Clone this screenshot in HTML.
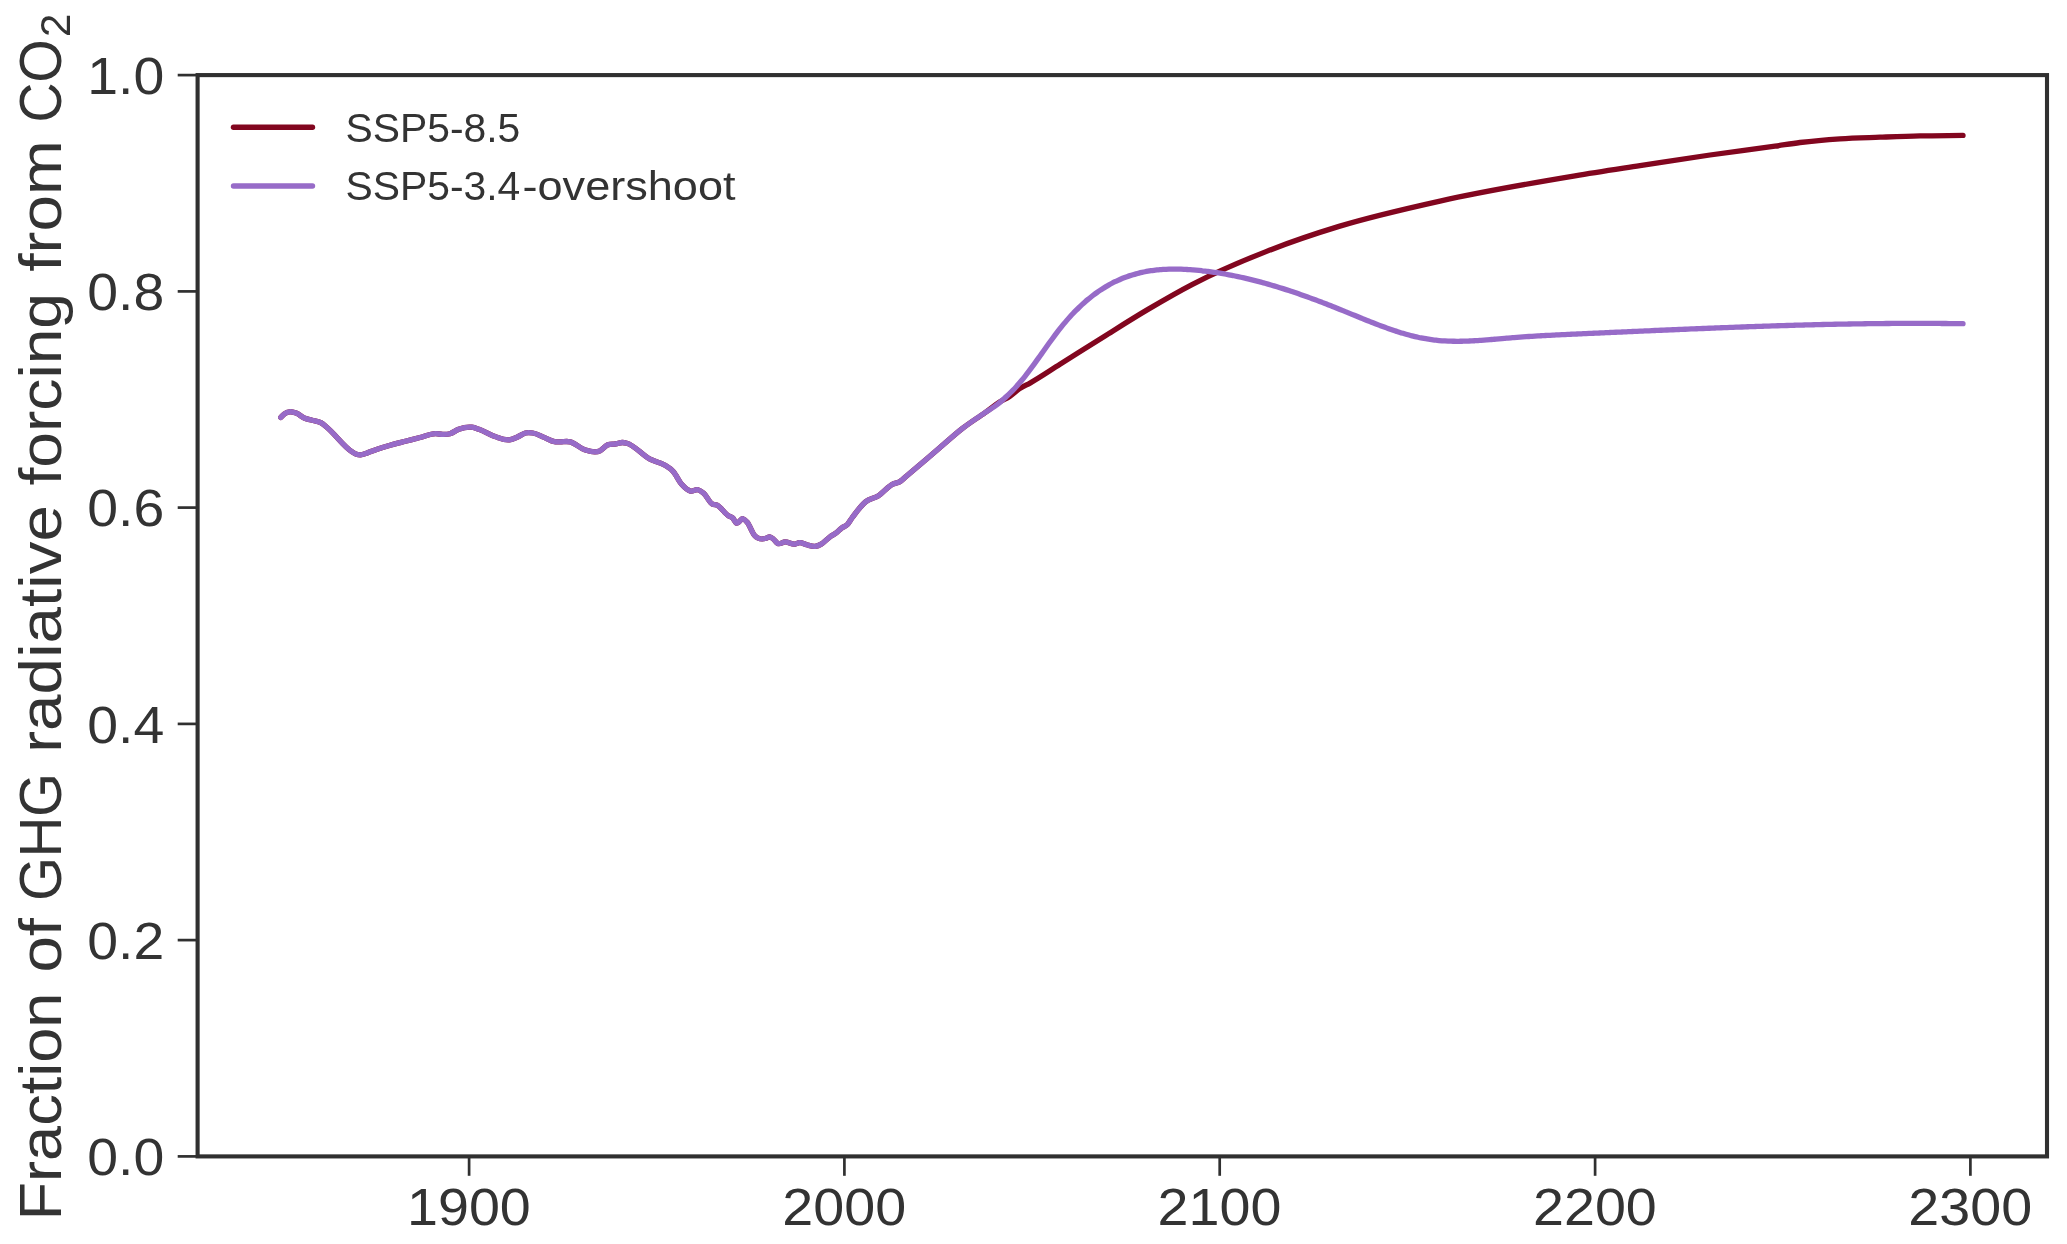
<!DOCTYPE html>
<html><head><meta charset="utf-8"><style>
html,body{margin:0;padding:0;background:#fff;width:2067px;height:1244px;overflow:hidden}
svg{display:block;will-change:transform}
text{font-family:"Liberation Sans",sans-serif}
</style></head><body>
<svg width="2067" height="1244" viewBox="0 0 2067 1244"><rect width="2067" height="1244" fill="#ffffff"/><path d="M280.80 417.40 C282.03 416.20 283.27 414.70 284.50 413.80 C286.20 412.56 287.90 412.02 289.60 411.80 C291.77 411.51 293.93 412.30 296.10 413.10 C299.00 414.17 301.90 417.10 304.80 418.30 C307.20 419.30 309.60 419.56 312.00 420.20 C314.93 420.99 317.87 420.91 320.80 422.60 C322.70 423.69 324.60 425.46 326.50 427.00 C335.00 433.87 343.50 446.55 352.00 451.80 C353.50 452.73 355.00 453.81 356.50 454.30 C357.90 454.76 359.30 454.87 360.70 454.80 C362.30 454.71 363.90 454.12 365.50 453.60 C367.03 453.11 368.57 452.38 370.10 451.80 C375.93 449.59 381.77 447.75 387.60 446.00 C393.87 444.12 400.13 442.64 406.40 441.00 C410.93 439.82 415.47 438.64 420.00 437.50 C425.17 436.20 430.33 433.81 435.50 433.70 C437.90 433.65 440.30 434.30 442.70 434.30 C445.13 434.30 447.57 434.37 450.00 433.70 C452.90 432.90 455.80 430.37 458.70 429.30 C463.03 427.71 467.37 426.65 471.70 427.20 C474.13 427.51 476.57 428.47 479.00 429.30 C484.33 431.12 489.67 434.83 495.00 436.60 C499.83 438.21 504.67 440.50 509.50 439.80 C512.00 439.44 514.50 438.34 517.00 437.30 C519.80 436.13 522.60 433.67 525.40 433.00 C527.83 432.42 530.27 432.64 532.70 433.00 C536.53 433.57 540.37 435.86 544.20 437.40 C547.63 438.78 551.07 441.16 554.50 441.70 C556.33 441.99 558.17 441.78 560.00 441.80 C563.40 441.84 566.80 441.03 570.20 441.80 C575.03 442.90 579.87 448.28 584.70 449.80 C589.77 451.39 594.83 453.22 599.90 450.80 C602.57 449.53 605.23 445.85 607.90 444.70 C610.57 443.55 613.23 444.34 615.90 443.90 C618.07 443.55 620.23 442.48 622.40 442.50 C623.87 442.51 625.33 442.84 626.80 443.20 C634.53 445.08 642.27 455.25 650.00 459.20 C654.83 461.67 659.67 462.02 664.50 465.00 C667.40 466.79 670.30 468.23 673.20 471.50 C676.10 474.77 679.00 481.33 681.90 484.60 C684.80 487.87 687.70 490.41 690.60 491.10 C693.03 491.68 695.47 489.06 697.90 489.70 C699.83 490.20 701.77 491.61 703.70 493.30 C706.60 495.83 709.50 502.68 712.40 504.20 C713.83 504.95 715.27 504.37 716.70 504.90 C720.60 506.34 724.50 513.36 728.40 515.80 C729.83 516.70 731.27 516.58 732.70 518.00 C733.90 519.19 735.10 522.20 736.30 523.00 C738.50 524.47 740.70 518.15 742.90 518.70 C744.33 519.06 745.77 520.59 747.20 522.30 C749.63 525.20 752.07 532.48 754.50 535.40 C758.37 540.03 762.23 539.30 766.10 538.30 C767.30 537.99 768.50 536.68 769.70 536.80 C770.90 536.92 772.10 538.06 773.30 539.00 C774.77 540.15 776.23 542.60 777.70 543.40 C780.13 544.73 782.57 541.97 785.00 541.90 C788.37 541.81 791.73 544.68 795.10 544.10 C796.57 543.85 798.03 542.74 799.50 542.60 C801.90 542.37 804.30 544.21 806.70 544.80 C809.60 545.51 812.50 546.76 815.40 546.30 C817.33 545.99 819.27 545.18 821.20 544.10 C824.13 542.46 827.07 538.86 830.00 536.80 C831.93 535.44 833.87 534.65 835.80 533.20 C837.73 531.75 839.67 529.55 841.60 528.10 C843.53 526.65 845.47 526.55 847.40 524.50 C849.03 522.77 850.67 519.72 852.30 517.50 C856.80 511.37 861.30 505.22 865.80 501.60 C869.90 498.30 874.00 498.43 878.10 495.90 C883.00 492.87 887.90 486.44 892.80 484.10 C895.03 483.03 897.27 483.20 899.50 481.90 C901.77 480.58 904.03 478.11 906.30 476.20 C917.53 466.76 928.77 457.05 940.00 447.50 C947.50 441.13 955.00 434.21 962.50 428.40 C970.03 422.57 977.57 417.98 985.10 412.60 C990.07 409.05 995.03 404.88 1000.00 401.80 C1003.20 399.82 1006.40 398.64 1009.60 396.50 C1012.83 394.34 1016.07 391.06 1019.30 388.90 C1022.87 386.51 1026.43 385.11 1030.00 383.10 C1040.00 377.46 1050.00 370.58 1060.00 364.30 C1075.00 354.87 1090.00 345.25 1105.00 335.90 C1119.33 326.96 1133.67 317.86 1148.00 309.40 C1162.67 300.74 1177.33 292.22 1192.00 284.60 C1216.67 271.78 1241.33 261.35 1266.00 251.60 C1290.33 241.98 1314.67 233.83 1339.00 226.40 C1372.67 216.12 1406.33 208.61 1440.00 201.10 C1485.00 191.06 1530.00 183.40 1575.00 175.90 C1596.67 172.29 1618.33 169.06 1640.00 165.70 C1663.33 162.08 1686.67 158.36 1710.00 155.00 C1731.67 151.88 1753.33 149.33 1775.00 146.20 C1783.33 145.00 1791.67 143.56 1800.00 142.50 C1813.33 140.81 1826.67 139.68 1840.00 138.80 C1853.33 137.92 1866.67 137.68 1880.00 137.20 C1893.33 136.72 1906.67 136.20 1920.00 135.90 C1934.33 135.58 1948.67 135.57 1963.00 135.40" fill="none" stroke="#82061f" stroke-width="5.3" stroke-linecap="round" stroke-linejoin="round"/><path d="M280.80 417.40 C282.03 416.20 283.27 414.70 284.50 413.80 C286.20 412.56 287.90 412.02 289.60 411.80 C291.77 411.51 293.93 412.30 296.10 413.10 C299.00 414.17 301.90 417.10 304.80 418.30 C307.20 419.30 309.60 419.56 312.00 420.20 C314.93 420.99 317.87 420.91 320.80 422.60 C322.70 423.69 324.60 425.46 326.50 427.00 C335.00 433.87 343.50 446.55 352.00 451.80 C353.50 452.73 355.00 453.81 356.50 454.30 C357.90 454.76 359.30 454.87 360.70 454.80 C362.30 454.71 363.90 454.12 365.50 453.60 C367.03 453.11 368.57 452.38 370.10 451.80 C375.93 449.59 381.77 447.75 387.60 446.00 C393.87 444.12 400.13 442.64 406.40 441.00 C410.93 439.82 415.47 438.64 420.00 437.50 C425.17 436.20 430.33 433.81 435.50 433.70 C437.90 433.65 440.30 434.30 442.70 434.30 C445.13 434.30 447.57 434.37 450.00 433.70 C452.90 432.90 455.80 430.37 458.70 429.30 C463.03 427.71 467.37 426.65 471.70 427.20 C474.13 427.51 476.57 428.47 479.00 429.30 C484.33 431.12 489.67 434.83 495.00 436.60 C499.83 438.21 504.67 440.50 509.50 439.80 C512.00 439.44 514.50 438.34 517.00 437.30 C519.80 436.13 522.60 433.67 525.40 433.00 C527.83 432.42 530.27 432.64 532.70 433.00 C536.53 433.57 540.37 435.86 544.20 437.40 C547.63 438.78 551.07 441.16 554.50 441.70 C556.33 441.99 558.17 441.78 560.00 441.80 C563.40 441.84 566.80 441.03 570.20 441.80 C575.03 442.90 579.87 448.28 584.70 449.80 C589.77 451.39 594.83 453.22 599.90 450.80 C602.57 449.53 605.23 445.85 607.90 444.70 C610.57 443.55 613.23 444.34 615.90 443.90 C618.07 443.55 620.23 442.48 622.40 442.50 C623.87 442.51 625.33 442.84 626.80 443.20 C634.53 445.08 642.27 455.25 650.00 459.20 C654.83 461.67 659.67 462.02 664.50 465.00 C667.40 466.79 670.30 468.23 673.20 471.50 C676.10 474.77 679.00 481.33 681.90 484.60 C684.80 487.87 687.70 490.41 690.60 491.10 C693.03 491.68 695.47 489.06 697.90 489.70 C699.83 490.20 701.77 491.61 703.70 493.30 C706.60 495.83 709.50 502.68 712.40 504.20 C713.83 504.95 715.27 504.37 716.70 504.90 C720.60 506.34 724.50 513.36 728.40 515.80 C729.83 516.70 731.27 516.58 732.70 518.00 C733.90 519.19 735.10 522.20 736.30 523.00 C738.50 524.47 740.70 518.15 742.90 518.70 C744.33 519.06 745.77 520.59 747.20 522.30 C749.63 525.20 752.07 532.48 754.50 535.40 C758.37 540.03 762.23 539.30 766.10 538.30 C767.30 537.99 768.50 536.68 769.70 536.80 C770.90 536.92 772.10 538.06 773.30 539.00 C774.77 540.15 776.23 542.60 777.70 543.40 C780.13 544.73 782.57 541.97 785.00 541.90 C788.37 541.81 791.73 544.68 795.10 544.10 C796.57 543.85 798.03 542.74 799.50 542.60 C801.90 542.37 804.30 544.21 806.70 544.80 C809.60 545.51 812.50 546.76 815.40 546.30 C817.33 545.99 819.27 545.18 821.20 544.10 C824.13 542.46 827.07 538.86 830.00 536.80 C831.93 535.44 833.87 534.65 835.80 533.20 C837.73 531.75 839.67 529.55 841.60 528.10 C843.53 526.65 845.47 526.55 847.40 524.50 C849.03 522.77 850.67 519.72 852.30 517.50 C856.80 511.37 861.30 505.22 865.80 501.60 C869.90 498.30 874.00 498.43 878.10 495.90 C883.00 492.87 887.90 486.44 892.80 484.10 C895.03 483.03 897.27 483.20 899.50 481.90 C901.77 480.58 904.03 478.11 906.30 476.20 C917.53 466.76 928.77 457.05 940.00 447.50 C947.50 441.13 955.00 434.21 962.50 428.40 C970.03 422.57 977.57 417.58 985.10 412.60 C988.40 410.42 991.70 408.72 995.00 406.23 C996.00 405.47 997.00 404.67 998.00 403.86 C999.00 403.05 1000.00 402.23 1001.00 401.38 C1002.00 400.54 1003.00 399.67 1004.00 398.78 C1005.00 397.90 1006.00 396.99 1007.00 396.05 C1008.00 395.12 1009.00 394.16 1010.00 393.18 C1011.00 392.19 1012.00 391.18 1013.00 390.14 C1014.00 389.11 1015.00 388.04 1016.00 386.95 C1017.00 385.85 1018.00 384.73 1019.00 383.57 C1020.00 382.41 1021.00 381.22 1022.00 380.01 C1023.00 378.79 1024.00 377.54 1025.00 376.28 C1026.00 375.01 1027.00 373.71 1028.00 372.40 C1029.00 371.09 1030.00 369.76 1031.00 368.41 C1032.00 367.06 1033.00 365.69 1034.00 364.32 C1035.00 362.95 1036.00 361.56 1037.00 360.16 C1038.00 358.77 1039.00 357.36 1040.00 355.96 C1041.00 354.56 1042.00 353.14 1043.00 351.74 C1044.00 350.33 1045.00 348.92 1046.00 347.52 C1047.00 346.12 1048.00 344.72 1049.00 343.33 C1050.00 341.94 1051.00 340.56 1052.00 339.19 C1053.00 337.83 1054.00 336.47 1055.00 335.13 C1056.00 333.80 1057.00 332.48 1058.00 331.18 C1059.00 329.88 1060.00 328.60 1061.00 327.35 C1062.00 326.10 1063.00 324.87 1064.00 323.67 C1065.00 322.47 1066.00 321.30 1067.00 320.14 C1068.00 318.99 1069.00 317.86 1070.00 316.76 C1071.00 315.66 1072.00 314.58 1073.00 313.52 C1074.00 312.47 1075.00 311.44 1076.00 310.43 C1077.00 309.42 1078.00 308.43 1079.00 307.47 C1080.00 306.50 1081.00 305.56 1082.00 304.64 C1083.00 303.73 1084.00 302.83 1085.00 301.95 C1086.00 301.08 1087.00 300.23 1088.00 299.39 C1089.00 298.56 1090.00 297.75 1091.00 296.96 C1092.00 296.17 1093.00 295.40 1094.00 294.65 C1095.00 293.90 1096.00 293.17 1097.00 292.47 C1098.00 291.76 1099.00 291.07 1100.00 290.40 C1101.00 289.73 1102.00 289.08 1103.00 288.45 C1104.00 287.81 1105.00 287.20 1106.00 286.61 C1107.00 286.01 1108.00 285.44 1109.00 284.88 C1110.00 284.32 1111.00 283.78 1112.00 283.26 C1113.00 282.73 1114.00 282.23 1115.00 281.74 C1116.00 281.25 1117.00 280.78 1118.00 280.33 C1119.00 279.87 1120.00 279.43 1121.00 279.01 C1122.00 278.59 1123.00 278.18 1124.00 277.79 C1125.00 277.40 1126.00 277.03 1127.00 276.67 C1128.00 276.31 1129.00 275.96 1130.00 275.63 C1131.00 275.30 1132.00 274.99 1133.00 274.69 C1134.00 274.39 1135.00 274.10 1136.00 273.83 C1137.00 273.55 1138.00 273.29 1139.00 273.05 C1140.00 272.80 1141.00 272.57 1142.00 272.35 C1143.00 272.13 1144.00 271.92 1145.00 271.73 C1146.00 271.53 1147.00 271.35 1148.00 271.18 C1149.00 271.01 1150.00 270.85 1151.00 270.70 C1152.00 270.55 1153.00 270.42 1154.00 270.29 C1155.00 270.16 1156.00 270.05 1157.00 269.95 C1158.00 269.84 1159.00 269.75 1160.00 269.67 C1161.00 269.58 1162.00 269.51 1163.00 269.44 C1164.00 269.38 1165.00 269.33 1166.00 269.28 C1167.00 269.23 1168.00 269.20 1169.00 269.17 C1170.00 269.14 1171.00 269.12 1172.00 269.11 C1173.00 269.10 1174.00 269.10 1175.00 269.10 C1176.00 269.11 1177.00 269.12 1178.00 269.14 C1179.00 269.16 1180.00 269.18 1181.00 269.22 C1182.00 269.25 1183.00 269.29 1184.00 269.34 C1185.00 269.38 1186.00 269.44 1187.00 269.49 C1188.00 269.55 1189.00 269.62 1190.00 269.68 C1191.00 269.75 1192.00 269.83 1193.00 269.91 C1194.00 269.99 1195.00 270.07 1196.00 270.16 C1197.00 270.25 1198.00 270.34 1199.00 270.44 C1200.00 270.54 1201.00 270.65 1202.00 270.76 C1203.00 270.86 1204.00 270.98 1205.00 271.10 C1206.00 271.21 1207.00 271.34 1208.00 271.46 C1209.00 271.59 1210.00 271.72 1211.00 271.86 C1212.00 272.00 1213.00 272.14 1214.00 272.28 C1215.00 272.43 1216.00 272.58 1217.00 272.73 C1218.00 272.89 1219.00 273.05 1220.00 273.21 C1221.00 273.37 1222.00 273.54 1223.00 273.71 C1224.00 273.89 1225.00 274.06 1226.00 274.24 C1227.00 274.42 1228.00 274.61 1229.00 274.80 C1230.00 274.99 1231.00 275.18 1232.00 275.38 C1233.00 275.57 1234.00 275.78 1235.00 275.98 C1236.00 276.19 1237.00 276.40 1238.00 276.61 C1239.00 276.82 1240.00 277.04 1241.00 277.26 C1242.00 277.48 1243.00 277.71 1244.00 277.94 C1245.00 278.16 1246.00 278.40 1247.00 278.63 C1248.00 278.87 1249.00 279.11 1250.00 279.35 C1251.00 279.60 1252.00 279.85 1253.00 280.10 C1254.00 280.35 1255.00 280.60 1256.00 280.86 C1257.00 281.12 1258.00 281.38 1259.00 281.65 C1260.00 281.91 1261.00 282.18 1262.00 282.45 C1263.00 282.73 1264.00 283.00 1265.00 283.28 C1266.00 283.56 1267.00 283.84 1268.00 284.13 C1269.00 284.41 1270.00 284.70 1271.00 284.99 C1272.00 285.29 1273.00 285.58 1274.00 285.88 C1275.00 286.18 1276.00 286.48 1277.00 286.79 C1278.00 287.09 1279.00 287.40 1280.00 287.71 C1281.00 288.02 1282.00 288.33 1283.00 288.65 C1284.00 288.97 1285.00 289.29 1286.00 289.61 C1287.00 289.93 1288.00 290.26 1289.00 290.59 C1290.00 290.91 1291.00 291.25 1292.00 291.58 C1293.00 291.91 1294.00 292.25 1295.00 292.59 C1296.00 292.93 1297.00 293.27 1298.00 293.61 C1299.00 293.96 1300.00 294.31 1301.00 294.66 C1302.00 295.01 1303.00 295.36 1304.00 295.71 C1305.00 296.07 1306.00 296.42 1307.00 296.78 C1308.00 297.14 1309.00 297.50 1310.00 297.87 C1311.00 298.23 1312.00 298.60 1313.00 298.97 C1314.00 299.34 1315.00 299.71 1316.00 300.08 C1317.00 300.46 1318.00 300.83 1319.00 301.21 C1320.00 301.59 1321.00 301.97 1322.00 302.35 C1323.00 302.73 1324.00 303.11 1325.00 303.50 C1326.00 303.89 1327.00 304.27 1328.00 304.66 C1329.00 305.05 1330.00 305.44 1331.00 305.84 C1332.00 306.23 1333.00 306.63 1334.00 307.02 C1335.00 307.42 1336.00 307.82 1337.00 308.22 C1338.00 308.62 1339.00 309.02 1340.00 309.43 C1341.00 309.83 1342.00 310.24 1343.00 310.65 C1344.00 311.05 1345.00 311.46 1346.00 311.87 C1347.00 312.28 1348.00 312.69 1349.00 313.10 C1350.00 313.51 1351.00 313.92 1352.00 314.33 C1353.00 314.74 1354.00 315.15 1355.00 315.56 C1356.00 315.97 1357.00 316.38 1358.00 316.79 C1359.00 317.19 1360.00 317.60 1361.00 318.01 C1362.00 318.41 1363.00 318.82 1364.00 319.22 C1365.00 319.63 1366.00 320.03 1367.00 320.43 C1368.00 320.83 1369.00 321.23 1370.00 321.63 C1371.00 322.02 1372.00 322.42 1373.00 322.81 C1374.00 323.20 1375.00 323.59 1376.00 323.97 C1377.00 324.36 1378.00 324.74 1379.00 325.12 C1380.00 325.49 1381.00 325.87 1382.00 326.24 C1383.00 326.61 1384.00 326.98 1385.00 327.34 C1386.00 327.70 1387.00 328.06 1388.00 328.42 C1389.00 328.77 1390.00 329.12 1391.00 329.46 C1392.00 329.81 1393.00 330.15 1394.00 330.48 C1395.00 330.82 1396.00 331.14 1397.00 331.47 C1398.00 331.79 1399.00 332.10 1400.00 332.41 C1401.00 332.73 1402.00 333.03 1403.00 333.33 C1404.00 333.62 1405.00 333.91 1406.00 334.20 C1407.00 334.48 1408.00 334.76 1409.00 335.03 C1410.00 335.30 1411.00 335.56 1412.00 335.81 C1413.00 336.07 1414.00 336.31 1415.00 336.55 C1416.00 336.79 1417.00 337.02 1418.00 337.24 C1419.00 337.46 1420.00 337.68 1421.00 337.88 C1422.00 338.08 1423.00 338.28 1424.00 338.47 C1425.00 338.65 1426.00 338.83 1427.00 338.99 C1428.00 339.16 1429.00 339.32 1430.00 339.46 C1431.00 339.61 1432.00 339.75 1433.00 339.87 C1434.00 340.00 1435.00 340.12 1436.00 340.23 C1437.00 340.34 1438.00 340.43 1439.00 340.52 C1440.00 340.61 1441.00 340.69 1442.00 340.77 C1443.00 340.84 1444.00 340.91 1445.00 340.96 C1446.00 341.02 1447.00 341.07 1448.00 341.11 C1449.00 341.15 1450.00 341.18 1451.00 341.21 C1452.00 341.24 1453.00 341.25 1454.00 341.27 C1455.00 341.28 1456.00 341.29 1457.00 341.29 C1458.00 341.29 1459.00 341.28 1460.00 341.27 C1461.00 341.26 1462.00 341.24 1463.00 341.22 C1464.00 341.19 1465.00 341.16 1466.00 341.13 C1467.00 341.10 1468.00 341.06 1469.00 341.02 C1470.00 340.98 1471.00 340.93 1472.00 340.88 C1473.00 340.83 1474.00 340.77 1475.00 340.71 C1476.00 340.65 1477.00 340.59 1478.00 340.53 C1479.00 340.46 1480.00 340.39 1481.00 340.32 C1482.00 340.25 1483.00 340.18 1484.00 340.10 C1485.00 340.03 1486.00 339.95 1487.00 339.87 C1488.00 339.79 1489.00 339.71 1490.00 339.62 C1491.00 339.54 1492.00 339.45 1493.00 339.37 C1494.00 339.28 1495.00 339.20 1496.00 339.11 C1497.00 339.02 1498.00 338.93 1499.00 338.85 C1500.00 338.76 1501.00 338.67 1502.00 338.58 C1503.00 338.50 1504.00 338.41 1505.00 338.32 C1506.00 338.24 1507.00 338.15 1508.00 338.07 C1509.00 337.98 1510.00 337.90 1511.00 337.82 C1512.00 337.74 1513.00 337.66 1514.00 337.58 C1515.00 337.50 1516.00 337.42 1517.00 337.35 C1518.00 337.27 1519.00 337.20 1520.00 337.13 C1521.00 337.05 1522.00 336.98 1523.00 336.91 C1524.00 336.84 1525.00 336.77 1526.00 336.71 C1527.00 336.64 1528.00 336.57 1529.00 336.51 C1530.00 336.44 1531.00 336.38 1532.00 336.31 C1533.00 336.25 1534.00 336.19 1535.00 336.13 C1536.00 336.06 1537.00 336.00 1538.00 335.95 C1539.00 335.89 1540.00 335.83 1541.00 335.77 C1542.00 335.71 1543.00 335.66 1544.00 335.60 C1545.00 335.55 1546.00 335.49 1547.00 335.44 C1548.00 335.38 1549.00 335.33 1550.00 335.28 C1551.00 335.22 1552.00 335.17 1553.00 335.12 C1554.00 335.07 1555.00 335.02 1556.00 334.97 C1557.00 334.92 1558.00 334.87 1559.00 334.82 C1560.00 334.77 1561.00 334.72 1562.00 334.68 C1563.00 334.63 1564.00 334.58 1565.00 334.53 C1566.00 334.49 1567.00 334.44 1568.00 334.39 C1569.00 334.35 1570.00 334.30 1571.00 334.26 C1572.00 334.21 1573.00 334.17 1574.00 334.12 C1575.00 334.08 1576.00 334.03 1577.00 333.99 C1578.00 333.94 1579.00 333.90 1580.00 333.85 C1581.00 333.81 1582.00 333.76 1583.00 333.72 C1584.00 333.67 1585.00 333.63 1586.00 333.58 C1587.00 333.54 1588.00 333.50 1589.00 333.45 C1590.00 333.41 1591.00 333.36 1592.00 333.32 C1593.00 333.27 1594.00 333.23 1595.00 333.18 C1596.00 333.14 1597.00 333.09 1598.00 333.05 C1599.00 333.01 1600.00 332.96 1601.00 332.92 C1602.00 332.87 1603.00 332.83 1604.00 332.78 C1605.00 332.74 1606.00 332.69 1607.00 332.65 C1608.00 332.60 1609.00 332.56 1610.00 332.51 C1611.00 332.47 1612.00 332.42 1613.00 332.38 C1614.00 332.33 1615.00 332.29 1616.00 332.25 C1617.00 332.20 1618.00 332.16 1619.00 332.11 C1620.00 332.07 1621.00 332.02 1622.00 331.98 C1623.00 331.93 1624.00 331.89 1625.00 331.84 C1626.00 331.80 1627.00 331.75 1628.00 331.71 C1629.00 331.66 1630.00 331.62 1631.00 331.58 C1632.00 331.53 1633.00 331.49 1634.00 331.44 C1635.00 331.40 1636.00 331.35 1637.00 331.31 C1638.00 331.26 1639.00 331.22 1640.00 331.18 C1641.00 331.13 1642.00 331.09 1643.00 331.04 C1644.00 331.00 1645.00 330.95 1646.00 330.91 C1647.00 330.87 1648.00 330.82 1649.00 330.78 C1650.00 330.73 1651.00 330.69 1652.00 330.65 C1653.00 330.60 1654.00 330.56 1655.00 330.52 C1656.00 330.47 1657.00 330.43 1658.00 330.38 C1659.00 330.34 1660.00 330.30 1661.00 330.25 C1662.00 330.21 1663.00 330.17 1664.00 330.12 C1665.00 330.08 1666.00 330.04 1667.00 329.99 C1668.00 329.95 1669.00 329.91 1670.00 329.86 C1671.00 329.82 1672.00 329.78 1673.00 329.74 C1674.00 329.69 1675.00 329.65 1676.00 329.61 C1677.00 329.56 1678.00 329.52 1679.00 329.48 C1680.00 329.44 1681.00 329.39 1682.00 329.35 C1683.00 329.31 1684.00 329.27 1685.00 329.23 C1686.00 329.18 1687.00 329.14 1688.00 329.10 C1689.00 329.06 1690.00 329.02 1691.00 328.97 C1692.00 328.93 1693.00 328.89 1694.00 328.85 C1695.00 328.81 1696.00 328.77 1697.00 328.73 C1698.00 328.69 1699.00 328.64 1700.00 328.60 C1701.00 328.56 1702.00 328.52 1703.00 328.48 C1704.00 328.44 1705.00 328.40 1706.00 328.36 C1707.00 328.32 1708.00 328.28 1709.00 328.24 C1710.00 328.20 1711.00 328.16 1712.00 328.12 C1713.00 328.08 1714.00 328.04 1715.00 328.00 C1716.00 327.96 1717.00 327.92 1718.00 327.88 C1719.00 327.84 1720.00 327.81 1721.00 327.77 C1722.00 327.73 1723.00 327.69 1724.00 327.65 C1725.00 327.61 1726.00 327.57 1727.00 327.54 C1728.00 327.50 1729.00 327.46 1730.00 327.42 C1731.00 327.38 1732.00 327.35 1733.00 327.31 C1734.00 327.27 1735.00 327.23 1736.00 327.20 C1737.00 327.16 1738.00 327.12 1739.00 327.09 C1740.00 327.05 1741.00 327.01 1742.00 326.98 C1743.00 326.94 1744.00 326.90 1745.00 326.87 C1746.00 326.83 1747.00 326.79 1748.00 326.76 C1749.00 326.72 1750.00 326.69 1751.00 326.65 C1752.00 326.62 1753.00 326.58 1754.00 326.55 C1755.00 326.51 1756.00 326.48 1757.00 326.44 C1758.00 326.41 1759.00 326.38 1760.00 326.34 C1761.00 326.31 1762.00 326.27 1763.00 326.24 C1764.00 326.21 1765.00 326.17 1766.00 326.14 C1767.00 326.11 1768.00 326.07 1769.00 326.04 C1770.00 326.01 1771.00 325.98 1772.00 325.94 C1773.00 325.91 1774.00 325.88 1775.00 325.85 C1776.00 325.82 1777.00 325.79 1778.00 325.75 C1779.00 325.72 1780.00 325.69 1781.00 325.66 C1782.00 325.63 1783.00 325.60 1784.00 325.57 C1785.00 325.54 1786.00 325.51 1787.00 325.48 C1788.00 325.45 1789.00 325.42 1790.00 325.39 C1791.00 325.36 1792.00 325.33 1793.00 325.30 C1794.00 325.27 1795.00 325.25 1796.00 325.22 C1797.00 325.19 1798.00 325.16 1799.00 325.13 C1800.00 325.11 1801.00 325.08 1802.00 325.05 C1803.00 325.03 1804.00 325.00 1805.00 324.97 C1806.00 324.95 1807.00 324.92 1808.00 324.89 C1809.00 324.87 1810.00 324.84 1811.00 324.82 C1812.00 324.79 1813.00 324.76 1814.00 324.74 C1815.00 324.72 1816.00 324.69 1817.00 324.67 C1818.00 324.64 1819.00 324.62 1820.00 324.59 C1821.00 324.57 1822.00 324.55 1823.00 324.52 C1824.00 324.50 1825.00 324.48 1826.00 324.46 C1827.00 324.43 1828.00 324.41 1829.00 324.39 C1830.00 324.37 1831.00 324.35 1832.00 324.32 C1833.00 324.30 1834.00 324.28 1835.00 324.26 C1836.00 324.24 1837.00 324.22 1838.00 324.20 C1839.00 324.18 1840.00 324.16 1841.00 324.14 C1842.00 324.12 1843.00 324.10 1844.00 324.09 C1845.00 324.07 1846.00 324.05 1847.00 324.03 C1848.00 324.01 1849.00 324.00 1850.00 323.98 C1851.00 323.96 1852.00 323.94 1853.00 323.93 C1854.00 323.91 1855.00 323.90 1856.00 323.88 C1857.00 323.86 1858.00 323.85 1859.00 323.83 C1860.00 323.82 1861.00 323.80 1862.00 323.79 C1863.00 323.77 1864.00 323.76 1865.00 323.75 C1866.00 323.73 1867.00 323.72 1868.00 323.71 C1869.00 323.69 1870.00 323.68 1871.00 323.67 C1872.00 323.66 1873.00 323.64 1874.00 323.63 C1875.00 323.62 1876.00 323.61 1877.00 323.60 C1878.00 323.59 1879.00 323.58 1880.00 323.57 C1881.00 323.56 1882.00 323.55 1883.00 323.54 C1884.00 323.53 1885.00 323.52 1886.00 323.51 C1887.00 323.51 1888.00 323.50 1889.00 323.49 C1890.00 323.48 1891.00 323.47 1892.00 323.47 C1893.00 323.46 1894.00 323.45 1895.00 323.45 C1896.00 323.44 1897.00 323.44 1898.00 323.43 C1899.00 323.43 1900.00 323.42 1901.00 323.42 C1902.00 323.41 1903.00 323.41 1904.00 323.41 C1905.00 323.40 1906.00 323.40 1907.00 323.40 C1908.00 323.39 1909.00 323.39 1910.00 323.39 C1911.00 323.39 1912.00 323.39 1913.00 323.39 C1914.00 323.39 1915.00 323.38 1916.00 323.38 C1917.00 323.38 1918.00 323.39 1919.00 323.39 C1920.00 323.39 1921.00 323.39 1922.00 323.39 C1923.00 323.39 1924.00 323.39 1925.00 323.40 C1926.00 323.40 1927.00 323.40 1928.00 323.41 C1929.00 323.41 1930.00 323.41 1931.00 323.42 C1932.00 323.42 1933.00 323.43 1934.00 323.43 C1935.00 323.44 1936.00 323.44 1937.00 323.45 C1938.00 323.46 1939.00 323.46 1940.00 323.47 C1941.00 323.48 1942.00 323.48 1943.00 323.49 C1944.00 323.50 1945.00 323.51 1946.00 323.52 C1947.00 323.53 1948.00 323.54 1949.00 323.55 C1950.00 323.56 1951.00 323.57 1952.00 323.58 C1953.00 323.59 1954.00 323.60 1955.00 323.61 C1956.00 323.63 1957.00 323.64 1958.00 323.65 C1959.00 323.66 1960.00 323.68 1961.00 323.69 C1961.67 323.70 1962.33 323.71 1963.00 323.72" fill="none" stroke="#976bc8" stroke-width="5.3" stroke-linecap="round" stroke-linejoin="round"/><rect x="197.6" y="75.1" width="1849.4" height="1081.3" fill="none" stroke="#303030" stroke-width="4.1"/><line x1="177.7" y1="1156.4" x2="197.6" y2="1156.4" stroke="#303030" stroke-width="2.7"/><text x="164.3" y="1175.2" text-anchor="end" font-size="51.5" fill="#333333" textLength="77" lengthAdjust="spacingAndGlyphs">0.0</text><line x1="177.7" y1="940.1" x2="197.6" y2="940.1" stroke="#303030" stroke-width="2.7"/><text x="164.3" y="958.9" text-anchor="end" font-size="51.5" fill="#333333" textLength="77" lengthAdjust="spacingAndGlyphs">0.2</text><line x1="177.7" y1="723.9" x2="197.6" y2="723.9" stroke="#303030" stroke-width="2.7"/><text x="164.3" y="742.7" text-anchor="end" font-size="51.5" fill="#333333" textLength="77" lengthAdjust="spacingAndGlyphs">0.4</text><line x1="177.7" y1="507.6" x2="197.6" y2="507.6" stroke="#303030" stroke-width="2.7"/><text x="164.3" y="526.4" text-anchor="end" font-size="51.5" fill="#333333" textLength="77" lengthAdjust="spacingAndGlyphs">0.6</text><line x1="177.7" y1="291.4" x2="197.6" y2="291.4" stroke="#303030" stroke-width="2.7"/><text x="164.3" y="310.2" text-anchor="end" font-size="51.5" fill="#333333" textLength="77" lengthAdjust="spacingAndGlyphs">0.8</text><line x1="177.7" y1="75.1" x2="197.6" y2="75.1" stroke="#303030" stroke-width="2.7"/><text x="164.3" y="93.9" text-anchor="end" font-size="51.5" fill="#333333" textLength="77" lengthAdjust="spacingAndGlyphs">1.0</text><line x1="469.1" y1="1156.4" x2="469.1" y2="1175.8" stroke="#303030" stroke-width="2.7"/><text x="468.9" y="1225.0" text-anchor="middle" font-size="51" fill="#333333" textLength="123.8" lengthAdjust="spacingAndGlyphs">1900</text><line x1="844.4" y1="1156.4" x2="844.4" y2="1175.8" stroke="#303030" stroke-width="2.7"/><text x="844.2" y="1225.0" text-anchor="middle" font-size="51" fill="#333333" textLength="123.8" lengthAdjust="spacingAndGlyphs">2000</text><line x1="1219.7" y1="1156.4" x2="1219.7" y2="1175.8" stroke="#303030" stroke-width="2.7"/><text x="1219.5" y="1225.0" text-anchor="middle" font-size="51" fill="#333333" textLength="123.8" lengthAdjust="spacingAndGlyphs">2100</text><line x1="1595.1" y1="1156.4" x2="1595.1" y2="1175.8" stroke="#303030" stroke-width="2.7"/><text x="1594.9" y="1225.0" text-anchor="middle" font-size="51" fill="#333333" textLength="123.8" lengthAdjust="spacingAndGlyphs">2200</text><line x1="1970.4" y1="1156.4" x2="1970.4" y2="1175.8" stroke="#303030" stroke-width="2.7"/><text x="1970.2" y="1225.0" text-anchor="middle" font-size="51" fill="#333333" textLength="123.8" lengthAdjust="spacingAndGlyphs">2300</text><line x1="233.5" y1="127.3" x2="312.5" y2="127.3" stroke="#82061f" stroke-width="5.4" stroke-linecap="round"/><line x1="233.5" y1="186" x2="312.5" y2="186" stroke="#976bc8" stroke-width="5.4" stroke-linecap="round"/><text x="345.5" y="142" font-size="40" fill="#333333" textLength="174.8" lengthAdjust="spacingAndGlyphs">SSP5-8.5</text><text x="345.5" y="200" font-size="40" fill="#333333" textLength="174.8" lengthAdjust="spacingAndGlyphs">SSP5-3.4</text><text x="522.5" y="200" font-size="40" fill="#333333" textLength="213" lengthAdjust="spacingAndGlyphs">-overshoot</text><g transform="translate(60.5,0) rotate(-90)"><text x="-1220.50" y="0" font-size="60" fill="#333333" textLength="227.93" lengthAdjust="spacingAndGlyphs">Fraction</text><text x="-972.60" y="0" font-size="60" fill="#333333" textLength="54.59" lengthAdjust="spacingAndGlyphs">of</text><text x="-900.80" y="0" font-size="60" fill="#333333" textLength="127.55" lengthAdjust="spacingAndGlyphs">GHG</text><text x="-752.80" y="0" font-size="60" fill="#333333" textLength="247.68" lengthAdjust="spacingAndGlyphs">radiative</text><text x="-485.60" y="0" font-size="60" fill="#333333" textLength="192.67" lengthAdjust="spacingAndGlyphs">forcing</text><text x="-271.80" y="0" font-size="60" fill="#333333" textLength="131.55" lengthAdjust="spacingAndGlyphs">from</text><text x="-122.60" y="0" font-size="60" fill="#333333" textLength="83.03" lengthAdjust="spacingAndGlyphs">CO</text><text x="-37.00" y="9.2" font-size="42" fill="#333333">2</text></g></svg>
</body></html>
